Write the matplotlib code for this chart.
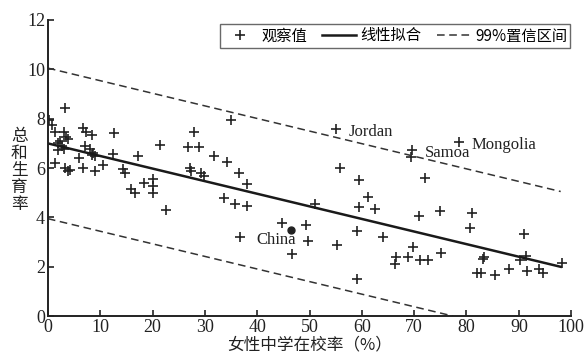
import matplotlib.pyplot as plt

plt.rcParams['font.family'] = ['Noto Sans CJK SC', 'DejaVu Sans']

# observed countries: female secondary enrolment (%) vs total fertility rate
enrol = [0.2, 0.8, 1.4, 3.3, 3.1, 3.4, 2.4, 1.9, 2.7, 2.0, 3.1, 3.8, 1.3, 3.3, 3.8, 4.2,
         6.7, 7.2, 8.5, 7.0, 8.1, 8.6, 9.0, 8.5, 6.0, 6.7, 9.0, 10.6, 12.6, 12.4, 14.4, 14.8,
         17.2, 15.8, 16.7, 18.4, 20.0, 20.0, 20.0, 21.5, 22.5, 26.8, 28.9, 28.0, 27.1, 27.3,
         29.3, 29.9, 31.8, 34.2, 34.9, 36.5, 38.0, 33.6, 35.8, 38.0, 36.7, 44.7, 49.3, 49.7,
         46.7, 51.0, 55.0, 55.9, 55.3, 59.4, 59.4, 61.1, 62.6, 59.1, 59.1, 64.1, 66.3, 66.6,
         68.8, 69.8, 69.5, 69.3, 71.1, 72.7, 71.0, 72.1, 75.2, 74.9, 78.5, 81.1, 80.6, 83.1,
         83.3, 82.1, 82.8, 85.4, 88.2, 90.9, 90.3, 91.4, 91.6, 93.9, 94.6, 98.3]
fertility = [7.93, 7.76, 7.46, 8.44, 7.48, 7.25, 7.11, 7.02, 6.91, 6.74, 6.77, 7.18, 6.22, 6.02, 5.88, 5.92,
             7.62, 7.48, 7.35, 6.91, 6.77, 6.61, 6.50, 6.53, 6.39, 6.02, 5.88, 6.11, 7.41, 6.57, 5.98, 5.79,
             6.50, 5.16, 4.99, 5.40, 5.54, 5.27, 4.99, 6.94, 4.31, 6.84, 6.84, 7.48, 6.02, 5.88,
             5.81, 5.68, 6.47, 6.25, 7.93, 5.81, 5.34, 4.79, 4.56, 4.45, 3.21, 3.79, 3.69, 3.05,
             2.50, 4.56, 7.59, 6.02, 2.87, 5.50, 4.42, 4.83, 4.34, 3.46, 1.50, 3.19, 2.12, 2.39,
             2.39, 2.80, 6.74, 6.43, 2.28, 2.28, 4.04, 5.61, 2.56, 4.27, 7.05, 4.17, 3.56, 2.33,
             2.40, 1.74, 1.74, 1.68, 1.92, 3.31, 2.28, 2.42, 1.82, 1.92, 1.74, 2.15]

china = (46.4, 3.49)

# fitted line and 99% band end points
fit_x = [0, 98]
fit_y = [7.0, 2.0]
upper_x = [0, 98]
upper_y = [10.05, 5.05]
lower_x = [0, 77.5]
lower_y = [3.95, 0.0]

labels = ['Jordan', 'Samoa', 'Mongolia', 'China']
label_pos = [(57.4, 7.48), (72.0, 6.62), (81.0, 6.94), (39.8, 3.08)]

fig = plt.figure(figsize=(5.84, 3.63), dpi=100)
ax = fig.add_axes([0.082, 0.129, 0.896, 0.816])

ax.plot(enrol, fertility, '+', color='#222222', markersize=7, mew=1.2, label='观察值')
ax.plot(fit_x, fit_y, '-', color='#1a1a1a', lw=1.8, label='线性拟合')
ax.plot(upper_x, upper_y, '--', color='#333333', lw=1.1, dashes=(5, 3), label='99%置信区间')
ax.plot(lower_x, lower_y, '--', color='#333333', lw=1.1, dashes=(5, 3))
ax.plot(*china, 'o', color='#222222', markersize=5)

for name, (tx, ty) in zip(labels, label_pos):
    ax.text(tx, ty, name, family='Liberation Serif', fontsize=12, color='#222222', va='center')

ax.set_xlim(0, 100)
ax.set_ylim(0, 12)
ax.set_xticks(range(0, 101, 10))
ax.set_yticks(range(0, 13, 2))
for lbl in ax.get_xticklabels() + ax.get_yticklabels():
    lbl.set_family('Liberation Serif')
    lbl.set_fontsize(13)
ax.tick_params(direction='in', length=4, width=1.2, pad=2, colors='#222222')
ax.spines['top'].set_visible(False)
ax.spines['right'].set_visible(False)
for s in ['left', 'bottom']:
    ax.spines[s].set_linewidth(1.4)
    ax.spines[s].set_color('#222222')

ax.set_xlabel('女性中学在校率（%）', fontsize=12, labelpad=0, color='#222222')
fig.text(0.033, 0.53, '总\n和\n生\n育\n率', fontsize=12, ha='center', va='center',
         linespacing=1.0, color='#222222')

leg = ax.legend(loc='upper right', ncol=3, fontsize=11, frameon=True, fancybox=False,
                edgecolor='#444444', handlelength=2.2, columnspacing=1.0, handletextpad=0.3,
                borderpad=0.2, borderaxespad=0, bbox_to_anchor=(0.998, 0.985))
leg.get_frame().set_linewidth(1.0)

plt.savefig('out.png', dpi=100)
